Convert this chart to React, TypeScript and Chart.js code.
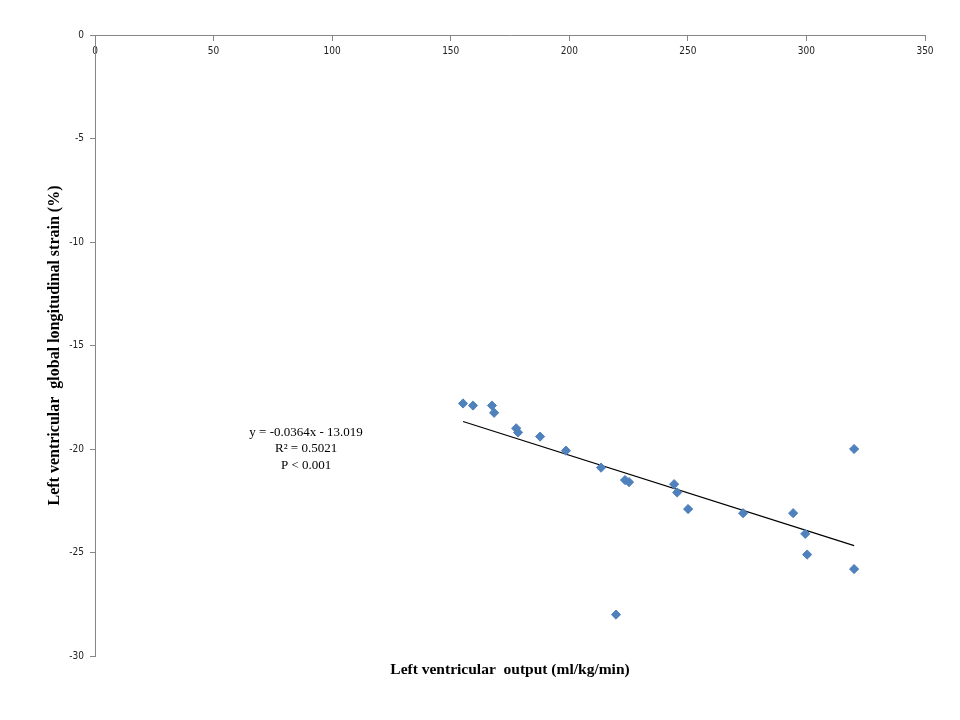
import React, { useEffect, useRef } from "react";
import { Chart, registerables } from "chart.js";

Chart.register(...registerables);

// Left ventricular output (ml/kg/min)
const outputValues = [
  155.2, 159.4, 167.4, 168.3, 177.6, 178.4, 187.7, 198.6, 213.4, 219.7, 223.5,
  225.2, 244.2, 245.5, 250.1, 273.3, 294.4, 299.5, 300.3, 320.1, 320.1,
];
// Left ventricular global longitudinal strain (%)
const strainValues = [
  -17.8, -17.9, -17.9, -18.25, -19.0, -19.2, -19.4, -20.08, -20.9, -28.0, -21.5,
  -21.6, -21.7, -22.1, -22.9, -23.1, -23.1, -24.1, -25.1, -20.0, -25.8,
];
// Trend line end points
const trendX = [155.2, 320.1];
const trendY = [-18.67, -24.67];

const xTicksMin = 0;
const xTicksMax = 350;
const xStep = 50;
const yTicksMin = -30;
const yTicksMax = 0;
const yStep = 5;

const equationLines = ["y = -0.0364x - 13.019", "R\u00B2 = 0.5021", "P < 0.001"];
const equationAnchor = { x: 89, y: -19.2 };

const xTitle = "Left ventricular  output (ml/kg/min)";
const yTitle = "Left ventricular  global longitudinal strain (%)";

export default function App() {
  const ref = useRef<HTMLCanvasElement | null>(null);

  useEffect(() => {
    document.body.style.margin = "0";
    const canvas = ref.current;
    if (!canvas) return;

    const overlay = {
      id: "overlay",
      afterDraw(chart: any) {
        const { ctx, chartArea, scales } = chart;
        ctx.save();
        ctx.fillStyle = "#000";
        ctx.textAlign = "center";
        ctx.textBaseline = "middle";
        ctx.font = "bold 15.5px 'Liberation Serif'";
        ctx.fillText(xTitle, (chartArea.left + chartArea.right) / 2, chartArea.bottom + 14);
        ctx.font = "13px 'Liberation Serif'";
        const px = scales.x.getPixelForValue(equationAnchor.x);
        const py = scales.y.getPixelForValue(equationAnchor.y);
        equationLines.forEach((t, i) => ctx.fillText(t, px, py + i * 16.5));
        ctx.restore();
      },
    };

    const chart = new Chart(canvas, {
      type: "scatter",
      data: {
        datasets: [
          {
            label: "data",
            data: outputValues.map((x, i) => ({ x, y: strainValues[i] })),
            pointStyle: "rectRot",
            pointRadius: 4.6,
            backgroundColor: "#4F81BD",
            borderColor: "#4F81BD",
            borderWidth: 1,
          },
          {
            label: "trend",
            type: "line",
            data: trendX.map((x, i) => ({ x, y: trendY[i] })),
            borderColor: "#000",
            borderWidth: 1.2,
            pointRadius: 0,
            showLine: true,
            fill: false,
          } as any,
        ],
      },
      options: {
        responsive: false,
        animation: false,
        layout: { padding: { top: 35, right: 35, left: 0, bottom: 64 } },
        plugins: {
          legend: { display: false },
          tooltip: { enabled: false },
        },
        scales: {
          x: {
            type: "linear",
            position: { y: 0 } as any,
            min: xTicksMin,
            max: xTicksMax,
            afterFit(scale: any) {
              scale.height = 65;
            },
            ticks: {
              stepSize: xStep,
              padding: 5,
              color: "#222",
              font: { family: "'DejaVu Sans Condensed'", size: 10 },
              maxRotation: 0,
            },
            grid: {
              drawOnChartArea: false,
              drawTicks: true,
              tickLength: 5,
              color: "#868686",
            },
            border: { display: true, color: "#868686", width: 1 },
          },
          y: {
            type: "linear",
            position: "left",
            min: yTicksMin,
            max: yTicksMax,
            afterFit(scale: any) {
              scale.width = 95;
            },
            ticks: {
              stepSize: yStep,
              padding: 6,
              color: "#222",
              font: { family: "'DejaVu Sans Condensed'", size: 10 },
            },
            grid: {
              drawOnChartArea: false,
              drawTicks: true,
              tickLength: 5,
              color: "#868686",
            },
            border: { display: true, color: "#868686", width: 1 },
            title: {
              display: true,
              text: yTitle,
              color: "#000",
              font: { family: "'Liberation Serif'", size: 16, weight: "bold" },
              padding: { top: 45, bottom: 0 },
            },
          },
        },
      },
      plugins: [overlay],
    });

    return () => chart.destroy();
  }, []);

  return (
    <div style={{ position: "absolute", left: 0, top: 0, width: 960, height: 720, background: "#fff" }}>
      <canvas ref={ref} width={960} height={720} />
    </div>
  );
}
